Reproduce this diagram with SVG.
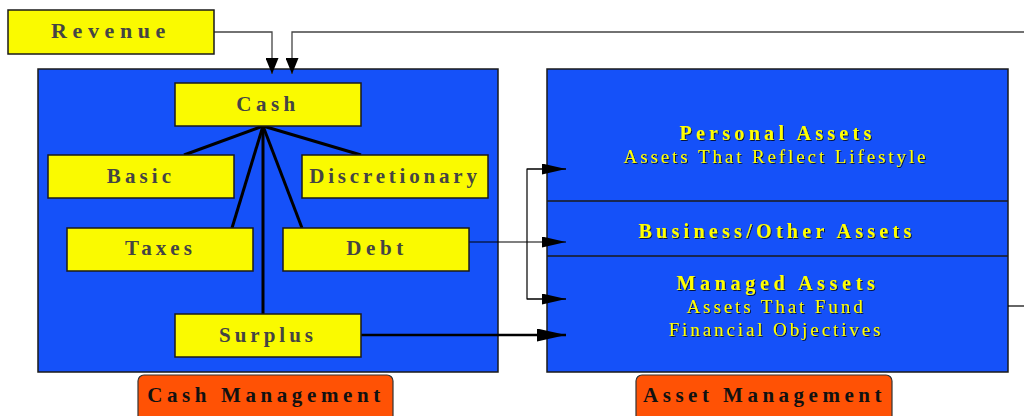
<svg xmlns="http://www.w3.org/2000/svg" width="1024" height="416" viewBox="0 0 1024 416">
  <style>
    .panel { fill: #1551F9; stroke: #1a1a1a; stroke-width: 1.5; }
    .item { fill: #FAFA00; stroke: #1a1a1a; stroke-width: 1.5; }
    .tag { fill: #FF5205; stroke: #333; stroke-width: 1.2; }
    .divider { stroke: #1a1a1a; stroke-width: 1.5; }
    .t-item { font-family: "Liberation Serif", "Times New Roman", serif; font-weight: bold; font-size: 21px; fill: #444; letter-spacing: 4.1px; text-anchor: middle; }
    .t-tag { font-family: "Liberation Serif", "Times New Roman", serif; font-weight: bold; font-size: 21px; fill: #111; letter-spacing: 4.6px; text-anchor: middle; }
    .t-head { font-family: "Liberation Serif", "Times New Roman", serif; font-weight: bold; font-size: 20px; fill: #FFFF00; letter-spacing: 4.3px; text-anchor: middle; filter: url(#shadow); }
    .t-sub { font-family: "Liberation Serif", "Times New Roman", serif; font-size: 19px; fill: #FFFF00; letter-spacing: 2.9px; text-anchor: middle; filter: url(#shadow); }
    .thin { fill: none; stroke: #444; stroke-width: 1.3; }
    .link { fill: none; stroke: #000; stroke-width: 1.2; }
    .fan { fill: none; stroke: #000; stroke-width: 3; }
    .flow { fill: none; stroke: #000; stroke-width: 2.5; }
  </style>
  <defs>
    <filter id="shadow" x="-5%" y="-20%" width="110%" height="140%">
      <feDropShadow dx="1" dy="1" stdDeviation="0.3" flood-color="#000" flood-opacity="0.75"/>
    </filter>
    <marker id="down" markerUnits="userSpaceOnUse" markerWidth="16" markerHeight="13" refX="16" refY="6.5" orient="auto">
      <path d="M0,0 L16,6.5 L0,13 z" fill="#000"/>
    </marker>
    <marker id="side" markerUnits="userSpaceOnUse" markerWidth="24" markerHeight="11" refX="24" refY="5.5" orient="auto">
      <path d="M0,0 L24,5.5 L0,11 z" fill="#000"/>
    </marker>
    <marker id="side-big" markerUnits="userSpaceOnUse" markerWidth="29" markerHeight="13" refX="29" refY="6.5" orient="auto">
      <path d="M0,0 L29,6.5 L0,13 z" fill="#000"/>
    </marker>
  </defs>

  <!-- panels -->
  <g id="cash-panel">
    <rect class="panel" x="38" y="69" width="460" height="303"/>
  </g>
  <g id="asset-panel">
    <rect class="panel" x="547" y="69" width="461" height="303"/>
    <line class="divider" x1="547" y1="201" x2="1008" y2="201"/>
    <line class="divider" x1="547" y1="256" x2="1008" y2="256"/>
  </g>

  <!-- connectors -->
  <g id="connectors">
    <polyline class="thin" points="214,32 272,32 272,74" marker-end="url(#down)"/>
    <polyline class="thin" points="1024,32 292,32 292,74" marker-end="url(#down)"/>
    <line class="fan" x1="263" y1="126" x2="184" y2="155"/>
    <line class="fan" x1="263" y1="126" x2="361" y2="155"/>
    <line class="fan" x1="263" y1="126" x2="232" y2="228"/>
    <line class="fan" x1="263" y1="126" x2="302" y2="228"/>
    <line class="fan" x1="263" y1="126" x2="263" y2="314"/>
    <line class="link" x1="469" y1="242" x2="566" y2="242" marker-end="url(#side)"/>
    <polyline class="link" points="566,169 527,169 527,299 566,299"/>
    <line class="link" x1="527" y1="169" x2="566" y2="169" marker-end="url(#side)"/>
    <line class="link" x1="527" y1="299" x2="566" y2="299" marker-end="url(#side)"/>
    <line class="flow" x1="361" y1="335" x2="566" y2="335" marker-end="url(#side-big)"/>
    <line class="link" x1="1008" y1="306" x2="1024" y2="306"/>
  </g>

  <!-- nodes -->
  <g id="revenue">
    <rect class="item" x="8" y="10" width="206" height="44"/>
    <text class="t-item" x="111" y="38" style="font-size:22px;letter-spacing:5.6px">Revenue</text>
  </g>
  <g id="cash">
    <rect class="item" x="175" y="83" width="186" height="43"/>
    <text class="t-item" x="268" y="111" style="letter-spacing:4.5px">Cash</text>
  </g>
  <g id="basic">
    <rect class="item" x="48" y="155" width="186" height="43"/>
    <text class="t-item" x="141" y="183">Basic</text>
  </g>
  <g id="discretionary">
    <rect class="item" x="302" y="155" width="186" height="43"/>
    <text class="t-item" x="395" y="183" style="letter-spacing:3.8px">Discretionary</text>
  </g>
  <g id="taxes">
    <rect class="item" x="67" y="228" width="186" height="43"/>
    <text class="t-item" x="160.5" y="255">Taxes</text>
  </g>
  <g id="debt">
    <rect class="item" x="283" y="228" width="186" height="43"/>
    <text class="t-item" x="377" y="255" style="letter-spacing:4.6px">Debt</text>
  </g>
  <g id="surplus">
    <rect class="item" x="175" y="314" width="186" height="43"/>
    <text class="t-item" x="268" y="342" style="letter-spacing:4px">Surplus</text>
  </g>

  <g id="personal-assets">
    <text class="t-head" x="777.5" y="140">Personal Assets</text>
    <text class="t-sub" x="776" y="163">Assets That Reflect Lifestyle</text>
  </g>
  <g id="business-assets">
    <text class="t-head" x="777" y="238">Business/Other Assets</text>
  </g>
  <g id="managed-assets">
    <text class="t-head" x="778" y="290" style="letter-spacing:4.7px">Managed Assets</text>
    <text class="t-sub" x="776" y="313">Assets That Fund</text>
    <text class="t-sub" x="776" y="336">Financial Objectives</text>
  </g>

  <g id="cash-management">
    <rect class="tag" x="138" y="375" width="255" height="50" rx="6"/>
    <text class="t-tag" x="266" y="402">Cash Management</text>
  </g>
  <g id="asset-management">
    <rect class="tag" x="636" y="375" width="256" height="50" rx="6"/>
    <text class="t-tag" x="764.5" y="402" style="letter-spacing:4.5px">Asset Management</text>
  </g>
</svg>
